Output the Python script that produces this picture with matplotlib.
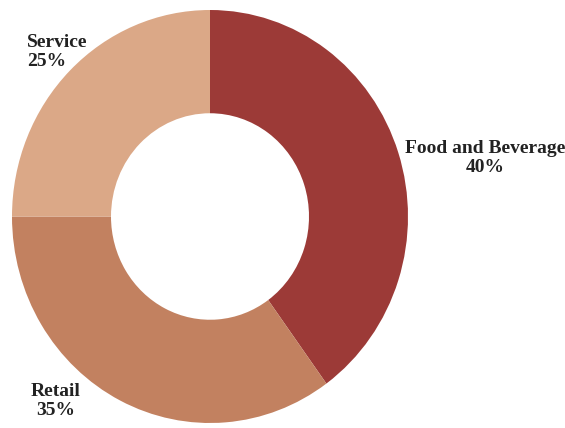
import matplotlib.pyplot as plt

categories = ['Food and Beverage', 'Retail', 'Service']
shares = [40, 35, 25]
colors = ['#9c3a37', '#c28160', '#dba887']

W, H = 565, 428
fig = plt.figure(figsize=(W / 100, H / 100), dpi=100)
# donut box in pixels: x 12..408, y 10..423 (slightly taller than wide)
ax = fig.add_axes([12 / W, 1 - 423 / H, 396 / W, 413 / H])
ax.pie(shares, colors=colors, startangle=90, counterclock=False,
       radius=1, wedgeprops=dict(width=0.5, edgecolor='none'))
ax.set_aspect('auto')
ax.set_xlim(-1, 1)
ax.set_ylim(-1, 1)
ax.axis('off')

font = dict(family='Liberation Serif', weight='bold', fontsize=14, color='#222222')
# label anchors in pixel coords (x, top y, align)
spots = {
    'Food and Beverage': (485, 140, 'center'),
    'Retail': (56, 383, 'center'),
    'Service': (27, 34, 'left'),
}
for name, val in zip(categories, shares):
    x, y, ha = spots[name]
    fig.text(x / W, 1 - y / H, f'{name}\n{val}%', ha=ha, va='top',
             linespacing=1.15, multialignment=ha, **font)

fig.savefig('out.png', dpi=100)
